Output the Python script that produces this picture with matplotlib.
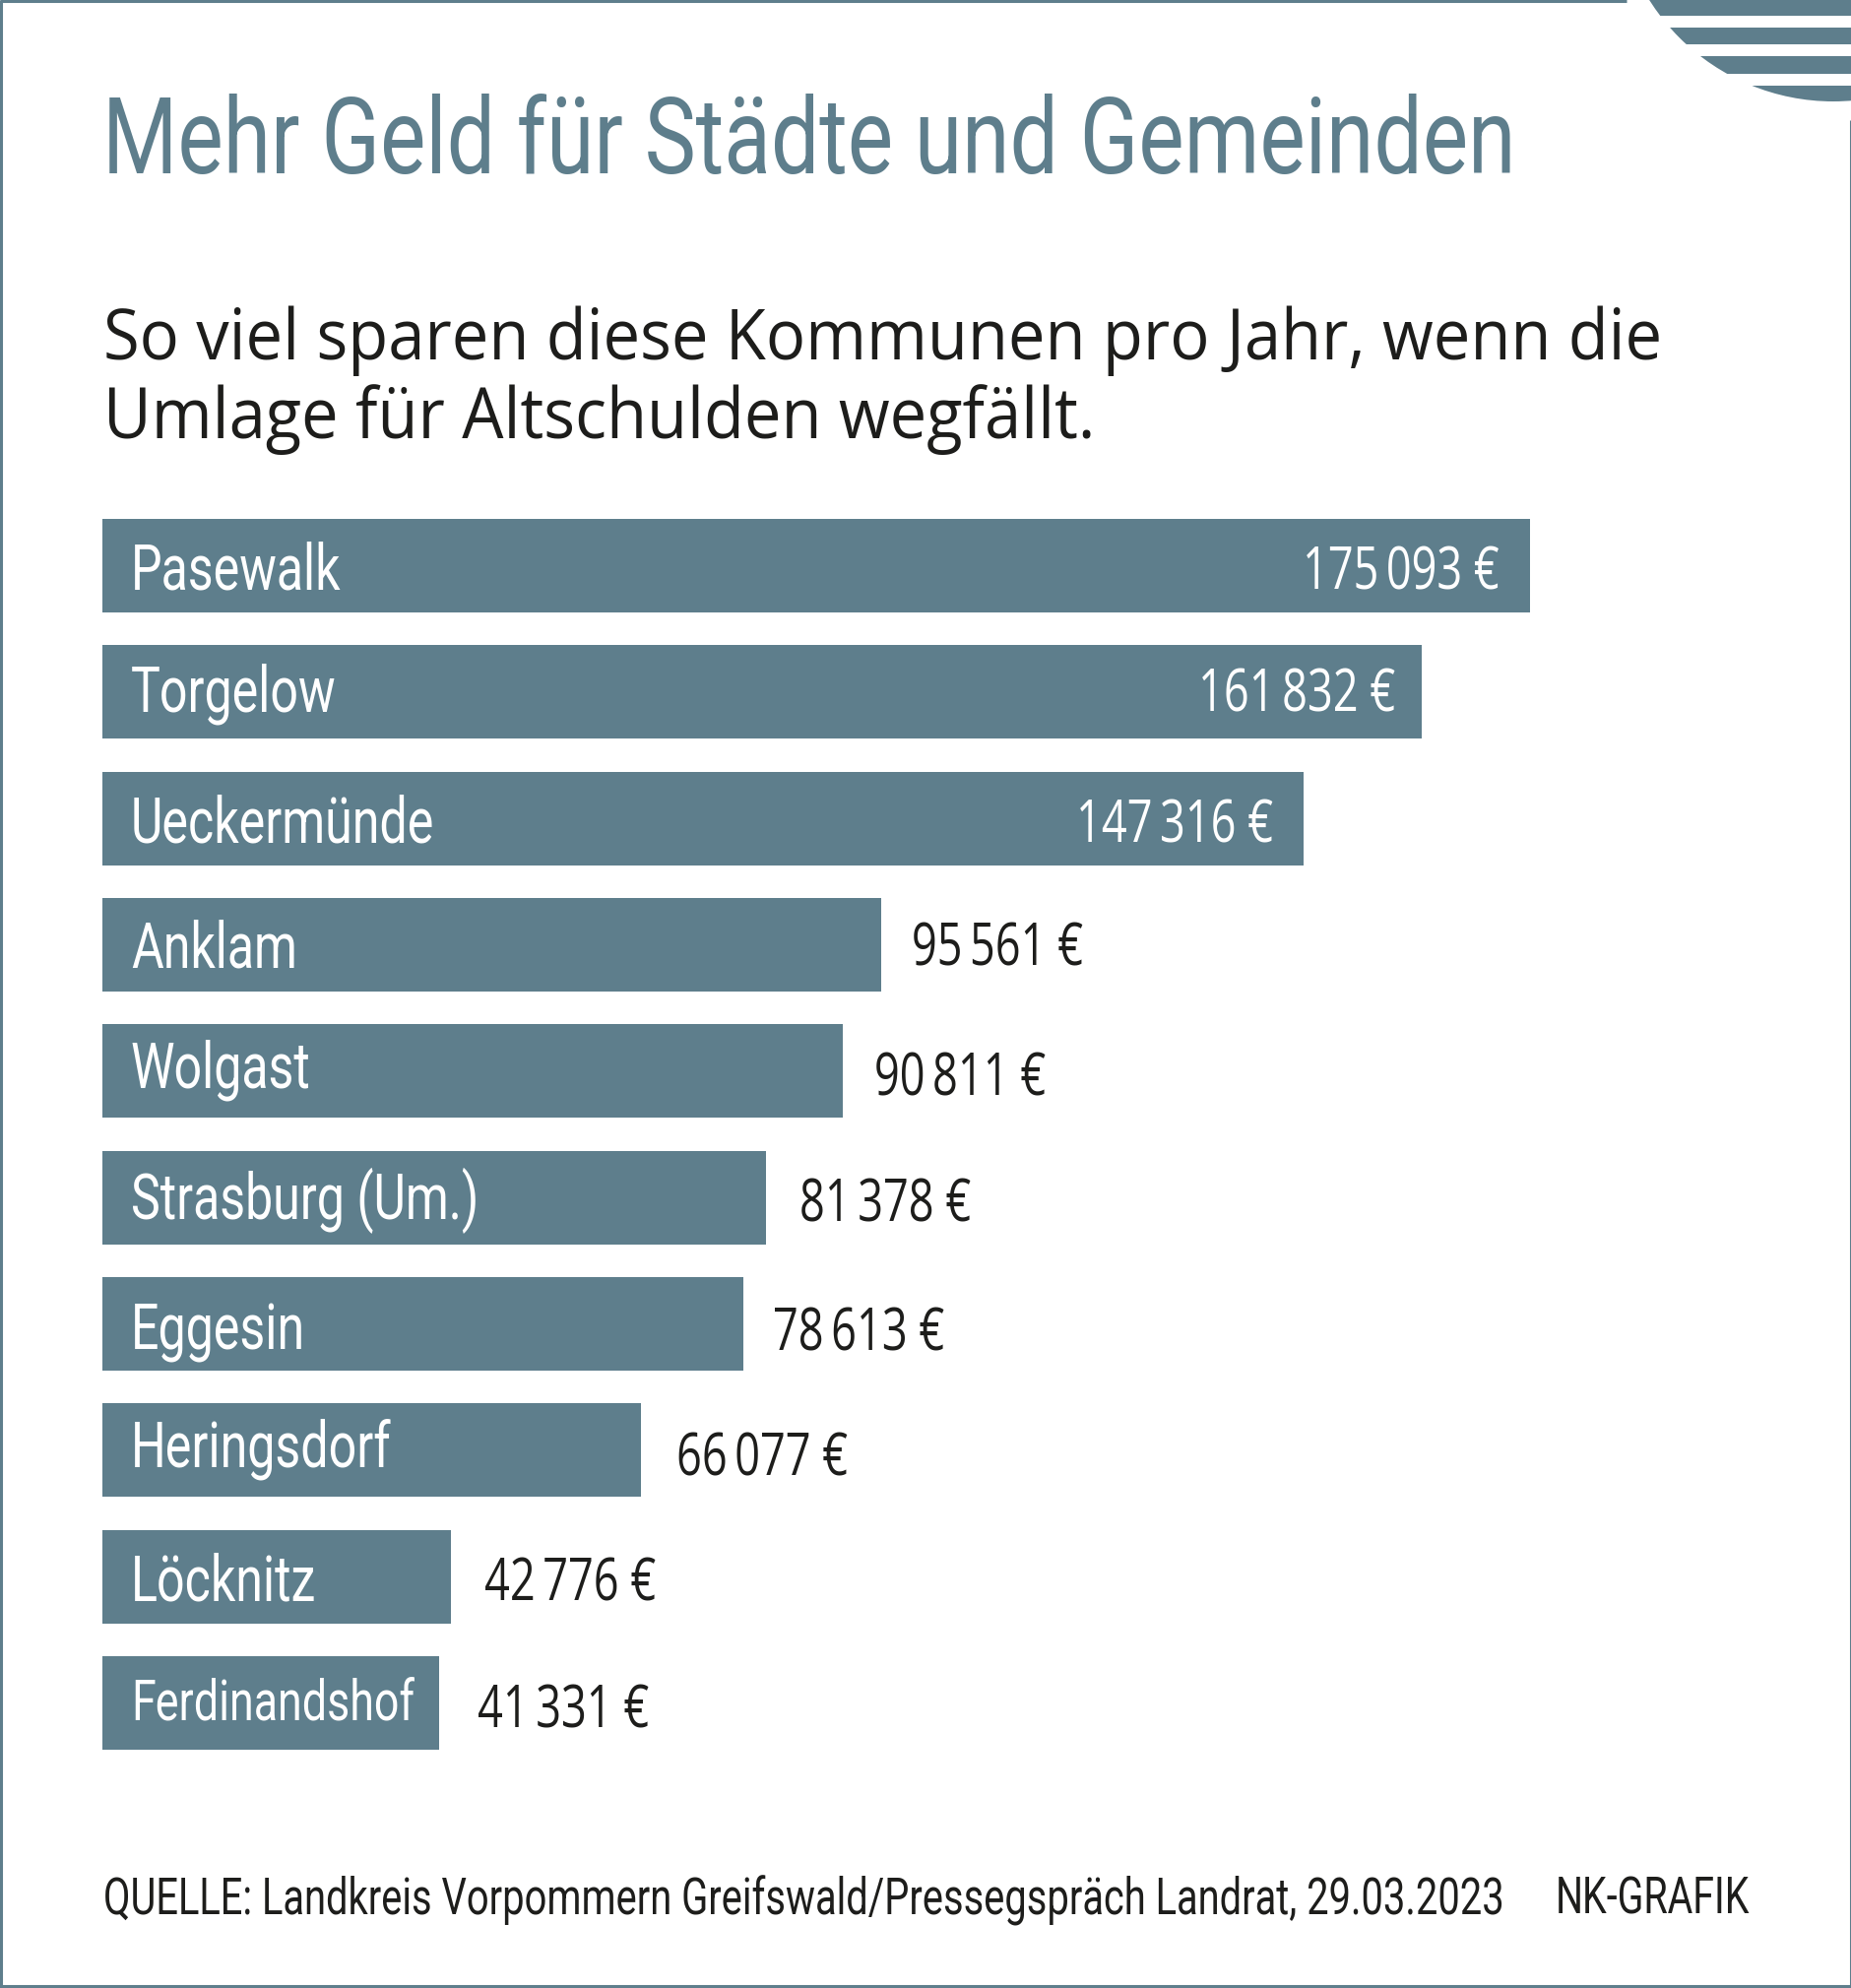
import os
import tempfile
import matplotlib
matplotlib.use("Agg")
import matplotlib.pyplot as plt
from matplotlib.patches import Circle, Rectangle
from matplotlib.font_manager import FontProperties, findfont
from fontTools.ttLib import TTFont
from fontTools.ttLib.tables import ttProgram

BLUE = "#5e7e8c"
INK = "#1d1d1b"
W, H = 1881, 2019

towns = ["Pasewalk", "Torgelow", "Ueckermünde", "Anklam", "Wolgast",
         "Strasburg (Um.)", "Eggesin", "Heringsdorf", "Löcknitz", "Ferdinandshof"]
savings = [175093, 161832, 147316, 95561, 90811, 81378, 78613, 66077, 42776, 41331]

# baselines sit a bit uneven in the original, pixels below the bar centre
name_dy = [24, 20, 24, 23, 17, 22, 26, 17, 24, 17]
value_dy = [24, 20, 24, 21, 25, 24, 27, 26, 24, 25]
value_dx = [31, 27, 31, 31, 32, 34, 30, 36, 34, 39]
stripes = [(0, 16), (28, 45), (57, 75), (87, 103)]


def squeezed(family, factor):
    # no condensed face is installed, so write a narrower copy of the font
    font = TTFont(findfont(family))
    for tag in ("fvar", "gvar", "HVAR", "MVAR", "avar", "STAT", "fpgm", "prep",
                "cvt ", "hdmx", "VDMX", "LTSH", "kern"):
        if tag in font:
            del font[tag]
    glyf = font["glyf"]
    empty = ttProgram.Program()
    empty.fromBytecode(b"")
    for name in font.getGlyphOrder():
        g = glyf[name]
        if g.isComposite():
            for c in g.components:
                c.x = round(c.x * factor)
        elif g.numberOfContours > 0:
            g.coordinates.scale((factor, 1))
            g.coordinates.toInt()
        if hasattr(g, "program"):
            g.program = empty
        aw, lsb = font["hmtx"][name]
        font["hmtx"][name] = (round(aw * factor), round(lsb * factor))
    path = os.path.join(tempfile.mkdtemp(), f"{family.replace(' ', '')}{int(factor * 100)}.ttf")
    font.save(path)
    return path


title_font = squeezed("Roboto", 0.818)
name_font = squeezed("Roboto", 0.785)
foot_font = squeezed("Roboto", 0.765)
value_font = squeezed("Open Sans", 0.755)
sub_font = squeezed("Open Sans", 0.943)

fig = plt.figure(figsize=(W / 100, H / 100), dpi=100, facecolor="white")

# full page axes in pixel coordinates for the frame, corner and headlines
page = fig.add_axes([0, 0, 1, 1])
page.set_xlim(0, W)
page.set_ylim(H, 0)
page.axis("off")

page.plot([0, 1652], [1, 1], color=BLUE, lw=2.2, solid_capstyle="butt")
page.plot([1, 1], [0, H], color=BLUE, lw=2.2, solid_capstyle="butt")
page.plot([0, W], [H - 1.5, H - 1.5], color=BLUE, lw=2.2, solid_capstyle="butt")
page.plot([W - 1, W - 1], [122, H], color=BLUE, lw=2.2, solid_capstyle="butt")

# striped quarter circle top right
disc = Circle((1862, -118), 221, transform=page.transData, fc="none", ec="none")
page.add_patch(disc)
for top, bottom in stripes:
    band = Rectangle((1600, top), W - 1600, bottom - top, fc=BLUE, ec="none")
    page.add_patch(band)
    band.set_clip_path(disc)

page.text(104, 176, "Mehr Geld für Städte und Gemeinden", color=BLUE,
          fontproperties=FontProperties(fname=title_font, size=77), va="baseline")
page.text(105, 365, "So viel sparen diese Kommunen pro Jahr, wenn die", color=INK,
          fontproperties=FontProperties(fname=sub_font, size=51), va="baseline")
page.text(105, 445, "Umlage für Altschulden wegfällt.", color=INK,
          fontproperties=FontProperties(fname=sub_font, size=51), va="baseline")
page.text(105, 1944, "QUELLE: Landkreis Vorpommern Greifswald/Pressegspräch Landrat, 29.03.2023",
          color=INK, fontproperties=FontProperties(fname=foot_font, size=37.5), va="baseline")
page.text(1777, 1944, "NK-GRAFIK", color=INK,
          fontproperties=FontProperties(fname=foot_font, size=37), va="baseline", ha="right")

# bars
ax = fig.add_axes([104 / W, 1 - 1777 / H, (1554 - 104) / W, (1777 - 527) / H])
ax.patch.set_alpha(0)
ax.barh(range(len(towns)), savings, height=0.74, color=BLUE)
ax.set_xlim(0, max(savings))
ax.set_ylim(len(towns) - 1 + 0.37, -0.37)
ax.axis("off")

value_fp = FontProperties(fname=value_font, size=43)
for i, (town, val) in enumerate(zip(towns, savings)):
    size = 41 if town == "Ferdinandshof" else 46
    ax.annotate(town, (0, i), xytext=(29, -name_dy[i]), textcoords="offset pixels", color="white",
                fontproperties=FontProperties(fname=name_font, size=size), va="baseline", ha="left")
    label = f"{val:,} €".replace(",", "\u2009")
    if val > 100000:
        ax.annotate(label, (val, i), xytext=(-value_dx[i], -value_dy[i]), textcoords="offset pixels",
                    color="white", fontproperties=value_fp, va="baseline", ha="right")
    else:
        ax.annotate(label, (val, i), xytext=(value_dx[i], -value_dy[i]), textcoords="offset pixels",
                    color=INK, fontproperties=value_fp, va="baseline", ha="left")

fig.savefig("out.png", dpi=100)
